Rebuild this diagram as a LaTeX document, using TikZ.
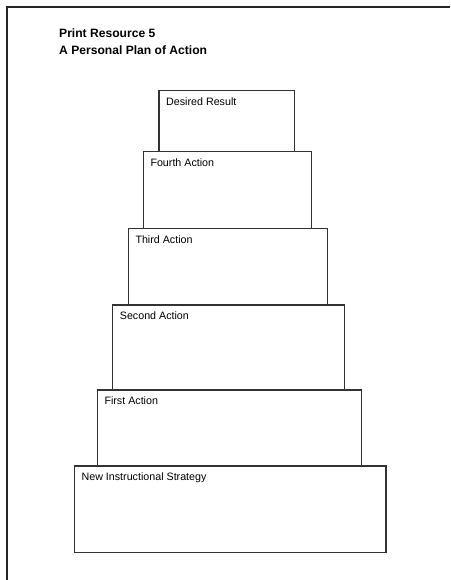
\documentclass[tikz,border=0pt]{standalone}
\usepackage{fontspec}
\setmainfont{Liberation Sans}
\begin{document}
\begin{tikzpicture}[x=1pt,y=1pt,
  tier/.style={draw=black!80,line width=1.1pt,fill=white,anchor=north west,inner sep=0pt,outer sep=0pt},
  tierlabel/.style={anchor=base west,inner sep=0pt,font=\fontsize{10.7}{12}\selectfont},
  titletext/.style={anchor=base west,inner sep=0pt,font=\fontsize{12.1}{14}\selectfont\bfseries}]
\useasboundingbox (0,0) rectangle (450,580);
\draw[black!85,line width=1.4pt] (7,0) -- (7,573) -- (450,573);
\node[titletext] (t1) at (59,542.5) {Print Resource 5};
\node[titletext] (t2) at (59,525) {A Personal Plan of Action};
% tiers (x from left, y top in px -> 580-y)
\node[tier,minimum width=311.3pt,minimum height=86.7pt] (b0) at (74.7,580-466) {};
\node[tier,minimum width=264pt,minimum height=76pt] (b1) at (97.3,580-390) {};
\node[tier,minimum width=232pt,minimum height=85pt] (b2) at (112.7,580-305) {};
\node[tier,minimum width=199.4pt,minimum height=76.7pt] (b3) at (128.3,580-228.3) {};
\node[tier,minimum width=168pt,minimum height=76.6pt] (b4) at (143.3,580-151.7) {};
\node[tier,minimum width=135.7pt,minimum height=61pt] (b5) at (159,580-90.7) {};
\node[tierlabel] (l0) at ([shift={(6.7,-14.5)}]b0.north west) {New Instructional Strategy};
\node[tierlabel] (l1) at ([shift={(7,-15)}]b1.north west) {First Action};
\node[tierlabel] (l2) at ([shift={(7,-15)}]b2.north west) {Second Action};
\node[tierlabel] (l3) at ([shift={(7,-15)}]b3.north west) {Third Action};
\node[tierlabel] (l4) at ([shift={(7,-15)}]b4.north west) {Fourth Action};
\node[tierlabel] (l5) at ([shift={(7,-14.5)}]b5.north west) {Desired Result};
\end{tikzpicture}
\end{document}
